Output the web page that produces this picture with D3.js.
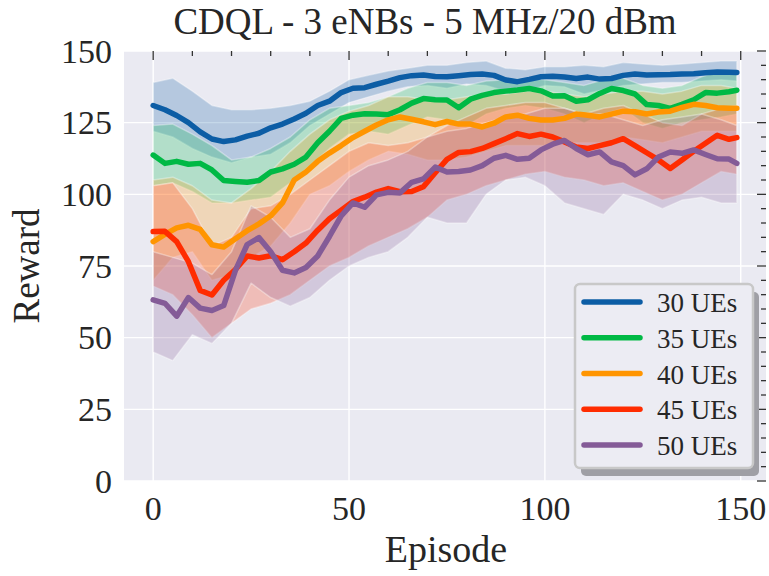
<!DOCTYPE html>
<html>
<head>
<meta charset="utf-8">
<script src="https://cdn.jsdelivr.net/npm/d3@7"></script>
<style>
  body { margin: 0; background: #ffffff; }
  svg { display: block; }
</style>
</head>
<body>
<svg id="chart" width="769" height="576"></svg>
<script>
// Smoothed mean reward per episode for each number of UEs
const episodes = [0,3,6,9,12,15,18,21,24,27,30,33,36,39,42,45,48,51,54,57,60,63,66,69,72,75,78,81,84,87,90,93,96,99,102,105,108,111,114,117,120,123,126,129,132,135,138,141,144,147,149];

const reward30 = [131.0,129.5,127.5,125.0,121.8,119.3,118.4,119.0,120.3,121.3,123.2,124.5,126.3,128.3,131.0,132.5,135.5,137.0,137.2,138.4,139.5,140.7,141.4,141.6,141.1,141.0,141.4,141.8,142.0,141.5,139.9,139.3,140.1,141.0,141.2,140.9,140.4,140.9,140.2,140.4,141.5,142.0,141.6,141.7,141.8,142.0,142.1,142.4,142.7,142.6,142.5];
const reward35 = [113.7,110.8,111.5,110.5,110.8,108.5,104.8,104.5,104.2,104.8,107.8,108.9,110.5,113.0,118.0,122.0,126.5,127.6,128.1,128.0,127.8,129.5,131.8,133.4,133.0,132.9,130.2,133.2,134.5,135.5,136.0,136.4,136.9,136.1,134.3,134.4,132.5,133.0,135.2,136.9,136.2,135.0,131.3,131.0,130.0,131.4,133.0,135.5,135.3,135.8,136.3];
const reward40 = [83.5,86.0,88.3,89.2,87.8,82.4,81.6,84.5,87.3,89.7,92.5,97.0,105.0,107.8,111.5,114.4,117.0,119.8,122.0,124.2,126.0,127.0,126.2,125.3,124.3,125.4,124.5,124.5,123.5,124.8,127.0,127.6,126.5,125.9,125.9,126.5,128.0,127.6,127.0,128.0,129.0,128.8,128.0,128.7,129.0,130.3,131.4,131.0,130.2,130.0,130.0];
const reward45 = [87.0,87.1,83.5,76.5,66.5,64.9,70.0,73.8,78.5,77.8,78.6,77.2,80.0,83.0,87.5,91.5,94.5,97.5,99.0,100.8,102.0,100.9,101.0,102.7,107.5,112.2,114.6,114.9,116.0,117.7,119.4,121.2,120.2,121.0,120.0,118.3,116.5,116.0,117.0,118.0,119.4,117.0,114.5,112.0,109.0,112.0,115.0,117.8,120.6,119.2,119.8];
const reward50 = [63.2,62.0,57.5,64.0,60.3,59.5,61.2,73.5,82.5,84.9,80.0,73.5,72.6,74.5,78.5,85.3,92.5,97.0,95.5,99.8,100.7,100.5,104.2,105.4,109.5,107.8,108.0,108.5,110.0,112.6,113.6,112.2,112.6,115.5,117.5,118.8,116.0,113.8,114.8,111.3,110.0,106.8,108.9,113.0,114.8,114.3,115.5,113.9,112.4,112.3,110.8];

// Spread around each mean (lower / upper envelope)
const bandEpisodes = [0,5,10,15,20,25,30,35,40,45,50,55,60,65,70,75,80,85,90,95,100,105,110,115,120,125,130,135,140,145,149];

const upper30 = [139,140.5,136,131,129.5,129.5,130,131,132.5,136,140,141.5,143,144,145,145,146,146.5,144,143.5,144.5,144.5,145,144.5,146,145.5,145,145.5,146,146.5,146.5];
const lower30 = [122,120,116,113,111,113,114,118,124,128,132,134,136,137.5,138,137,138.5,138,136,136,138,137.5,135,136.5,138,138.5,139,139,139.5,140,139.5];
const upper35 = [124,124.5,121,117,112,113,116,120,126,130,131,132,134,137,139,139,138,139.5,140,140.5,140,139,138,140,140.5,138,137,138,141,143,143];
const lower35 = [103,104,101,97,97,98,99,104,110,116,121,122,121,124,127,126,124,128,130,131,130,128,125,128,130,125,123,125,126,127,128];
const upper40 = [105,106,103,98,97,102,108,115,121,126,129,131,134,134,133,133,134,135,135,136,136,135,134,135,136,136,135,136,138,138,137];
const lower40 = [70,78,80,70,72,78,82,90,100,103,108,112,115,114,112,112,113,115,117,117,117,118,118,118,120,119,118,120,122,122,122];
const upper45 = [103,104,95,82,85,95,96,100,105,110,115,118,117,118,120,124,127,130,131,132,132,130,128,130,131,128,125,124,128,130,131];
const lower45 = [68,65,58,50,55,60,62,65,70,75,78,82,85,88,92,98,100,103,105,107,108,106,105,103,104,101,98,100,104,108,107];
const upper50 = [80,78,76,72,80,96,92,85,88,98,106,110,112,115,120,122,123,125,127,128,130,130,128,128,126,124,126,127,128,126,124];
const lower50 = [45,42,51,48,55,69,64,61,64,70,75,78,80,85,92,90,90,100,105,106,103,97,95,93,100,98,95,98,99,97,97];

const seriesLabels = ["30 UEs", "35 UEs", "40 UEs", "45 UEs", "50 UEs"];
const seriesColors = ["#0C5DA5", "#00B945", "#FF9500", "#FF2C00", "#845B97"];

const xTicks = [0, 50, 100, 150];
const xMinorTicks = d3.range(0, 151, 10);
const yTicks = [0, 25, 50, 75, 100, 125, 150];
const yMinorTicks = d3.range(0, 151, 5);

const titleText = "CDQL - 3 eNBs - 5 MHz/20 dBm";
const xLabel = "Episode";
const yLabel = "Reward";

// ---- layout ----
const FONT = "'Liberation Serif', 'Times New Roman', serif";
const TEXT = "#262626";
const plot = { left: 124, right: 766, top: 51, bottom: 481 };

const svg = d3.select("#chart");

const x = d3.scaleLinear().domain([-7.45, 156.45]).range([plot.left, plot.right]);
const y = d3.scaleLinear().domain([0, 150]).range([plot.bottom, plot.top]);

const clipId = "plot-clip";
svg.append("defs").append("clipPath").attr("id", clipId)
  .append("rect")
  .attr("x", plot.left).attr("y", plot.top)
  .attr("width", plot.right - plot.left).attr("height", plot.bottom - plot.top);

// background
svg.append("rect")
  .attr("x", plot.left).attr("y", plot.top)
  .attr("width", plot.right - plot.left).attr("height", plot.bottom - plot.top)
  .attr("fill", "#EAEAF2");

// grid
const grid = svg.append("g");
grid.selectAll("line.gx").data(xTicks).join("line")
  .attr("x1", d => x(d)).attr("x2", d => x(d))
  .attr("y1", plot.top).attr("y2", plot.bottom)
  .attr("stroke", "#ffffff").attr("stroke-width", 1.4);
grid.selectAll("line.gy").data(yTicks).join("line")
  .attr("x1", plot.left).attr("x2", plot.right)
  .attr("y1", d => y(d)).attr("y2", d => y(d))
  .attr("stroke", "#ffffff").attr("stroke-width", 1.4);

const series = [
  { mean: reward30, lo: lower30, hi: upper30 },
  { mean: reward35, lo: lower35, hi: upper35 },
  { mean: reward40, lo: lower40, hi: upper40 },
  { mean: reward45, lo: lower45, hi: upper45 },
  { mean: reward50, lo: lower50, hi: upper50 }
];

const data = svg.append("g").attr("clip-path", `url(#${clipId})`);

const area = d3.area()
  .x(d => x(d.ep))
  .y0(d => y(d.lo))
  .y1(d => y(d.hi));

const line = d3.line()
  .x(d => x(d.ep))
  .y(d => y(d.v));

// shaded envelopes
series.forEach((s, i) => {
  const pts = bandEpisodes.map((ep, k) => ({ ep, lo: s.lo[k], hi: s.hi[k] }));
  data.append("path")
    .attr("d", area(pts))
    .attr("fill", seriesColors[i])
    .attr("fill-opacity", 0.24)
    .attr("stroke", "#ffffff")
    .attr("stroke-opacity", 0.35)
    .attr("stroke-width", 1.5)
    .attr("stroke-linejoin", "round");
});

// mean curves
series.forEach((s, i) => {
  const pts = episodes.map((ep, k) => ({ ep, v: s.mean[k] }));
  data.append("path")
    .attr("d", line(pts))
    .attr("fill", "none")
    .attr("stroke", seriesColors[i])
    .attr("stroke-width", 5.5)
    .attr("stroke-linejoin", "round")
    .attr("stroke-linecap", "round");
});

// ticks on the top and right edges (pointing inward)
const ticks = svg.append("g").attr("stroke", "#333333").attr("stroke-width", 1.3);
ticks.selectAll("line.tx").data(xMinorTicks).join("line")
  .attr("x1", d => x(d)).attr("x2", d => x(d))
  .attr("y1", plot.top).attr("y2", d => plot.top + (xTicks.includes(d) ? 9 : 5));
ticks.selectAll("line.ty").data(yMinorTicks).join("line")
  .attr("y1", d => y(d)).attr("y2", d => y(d))
  .attr("x1", plot.right).attr("x2", d => plot.right - (yTicks.includes(d) ? 9 : 5));

// tick labels
svg.append("g").selectAll("text").data(xTicks).join("text")
  .attr("x", d => x(d)).attr("y", 520)
  .attr("text-anchor", "middle")
  .attr("font-family", FONT).attr("font-size", 34).attr("fill", TEXT)
  .text(d => d);

svg.append("g").selectAll("text").data(yTicks).join("text")
  .attr("x", 112).attr("y", d => y(d) + 11.5)
  .attr("text-anchor", "end")
  .attr("font-family", FONT).attr("font-size", 34).attr("fill", TEXT)
  .text(d => d);

// axis titles
svg.append("text")
  .attr("x", 446).attr("y", 562)
  .attr("text-anchor", "middle")
  .attr("font-family", FONT).attr("font-size", 38).attr("fill", TEXT)
  .text(xLabel);

svg.append("text")
  .attr("transform", "translate(39,266) rotate(-90)")
  .attr("text-anchor", "middle")
  .attr("font-family", FONT).attr("font-size", 37).attr("fill", TEXT)
  .text(yLabel);

svg.append("text")
  .attr("x", 425).attr("y", 34)
  .attr("text-anchor", "middle")
  .attr("font-family", FONT).attr("font-size", 37).attr("fill", TEXT)
  .text(titleText);

// legend
const lg = { x: 575, y: 284, w: 178, h: 184 };
const legend = svg.append("g");
legend.append("rect")
  .attr("x", lg.x + 6).attr("y", lg.y + 8)
  .attr("width", lg.w).attr("height", lg.h)
  .attr("rx", 5)
  .attr("fill", "#9f9fa5");
legend.append("rect")
  .attr("x", lg.x).attr("y", lg.y)
  .attr("width", lg.w).attr("height", lg.h)
  .attr("rx", 5)
  .attr("fill", "#ECECF3")
  .attr("stroke", "#c8c8c8").attr("stroke-width", 2.5);

const rowY = d3.scaleLinear().domain([0, 4]).range([302, 445]);
const rows = legend.selectAll("g.row").data(seriesLabels).join("g");
rows.append("line")
  .attr("x1", 584).attr("x2", 640)
  .attr("y1", (d, i) => rowY(i)).attr("y2", (d, i) => rowY(i))
  .attr("stroke", (d, i) => seriesColors[i])
  .attr("stroke-width", 5.5)
  .attr("stroke-linecap", "round");
rows.append("text")
  .attr("x", 657).attr("y", (d, i) => rowY(i) + 10)
  .attr("font-family", FONT).attr("font-size", 27).attr("fill", TEXT)
  .text(d => d);
</script>
</body>
</html>
